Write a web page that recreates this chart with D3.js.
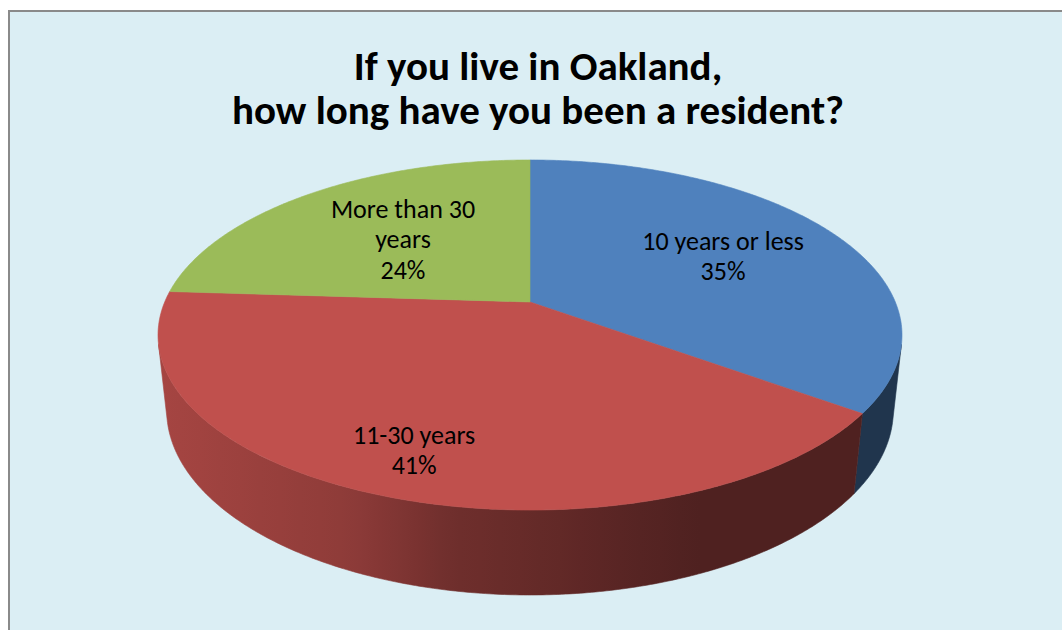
<!DOCTYPE html>
<html>
<head>
<meta charset="utf-8">
<script src="https://cdn.jsdelivr.net/npm/d3@7"></script>
<style>
  html, body { margin: 0; padding: 0; background: #ffffff; }
  svg { display: block; }
</style>
</head>
<body>
<svg id="chart" width="1062" height="630"></svg>
<script>
// ---- data ----
const titleLines = ["If you live in Oakland,", "how long have you been a resident?"];
const categories = ["10 years or less", "11-30 years", "More than 30 years"];
const labelLines = [["10 years or less"], ["11-30 years"], ["More than 30", "years"]];
const values = [35, 41, 24];
const colors = ["#4F81BD", "#C0504D", "#9BBB59"];

// ---- layout constants ----
const W = 1062, H = 630;
const cx = 530, cy = 302;           // projected pie centre
const f = 1717.7, D = 4.702;        // perspective camera
const sinA = 0.4621, cosA = 0.8868; // tilt
const depth = 0.2335;               // thickness (radius units)
const labelRadius = [0.625, 0.803, 0.546];
const fontStack = "Carlito, Calibri, Lato, 'Open Sans', sans-serif";

const svg = d3.select("#chart");

// background + frame
svg.append("rect").attr("x", 0).attr("y", 0).attr("width", W).attr("height", H).attr("fill", "#ffffff");
svg.append("rect").attr("x", 9).attr("y", 11).attr("width", W + 20).attr("height", H + 20)
  .attr("fill", "#DBEEF4").attr("stroke", "#8A8A8A").attr("stroke-width", 2);

// projection of a world point (X,Y,Z), Y up, Z toward viewer, radius 1
function project(X, Y, Z) {
  const d = D - Z * cosA - Y * sinA;
  const sy = Y * cosA - Z * sinA;
  return [cx + f * X / d, cy - f * sy / d];
}
function rimPoint(theta, r, Y) {
  return project(r * Math.sin(theta), Y, -r * Math.cos(theta));
}

const pie = d3.pie().sort(null).value(d => d)(values);

// gradient for side walls (shading across screen x)
const shade = d3.scaleLinear().domain([165, 350, 450, 530, 640, 700]).range([0.86, 0.74, 0.58, 0.53, 0.45, 0.41]).clamp(true);
const defs = svg.append("defs");
colors.forEach((c, i) => {
  const g = defs.append("linearGradient").attr("id", "side" + i)
    .attr("gradientUnits", "userSpaceOnUse").attr("x1", 160).attr("x2", 900).attr("y1", 0).attr("y2", 0);
  const base = d3.rgb(c);
  d3.range(160, 901, 20).forEach(x => {
    const s = shade(x);
    g.append("stop").attr("offset", (x - 160) / 740)
      .attr("stop-color", d3.rgb(base.r * s, base.g * s, base.b * s).formatHex());
  });
});

// visible part of the side: Z > 1/(D cosA)
const zt = 1 / (D * cosA);
const visA = Math.acos(-zt), visB = 2 * Math.PI - Math.acos(-zt);
const step = Math.PI / 360;

const line = d3.line();

pie.forEach((p, i) => {
  const a = Math.max(p.startAngle, visA), b = Math.min(p.endAngle, visB);
  if (b <= a) return;
  const pts = [];
  const n = Math.max(2, Math.ceil((b - a) / step));
  for (let j = 0; j <= n; j++) pts.push(rimPoint(a + (b - a) * j / n, 1, 0));
  for (let j = n; j >= 0; j--) pts.push(rimPoint(a + (b - a) * j / n, 1, -depth));
  svg.append("path").attr("d", line(pts) + "Z").attr("fill", `url(#side${i})`)
    .attr("stroke", `url(#side${i})`).attr("stroke-width", 0.6);
});

// top faces
pie.forEach((p, i) => {
  const pts = [project(0, 0, 0)];
  const n = Math.max(2, Math.ceil((p.endAngle - p.startAngle) / step));
  for (let j = 0; j <= n; j++) pts.push(rimPoint(p.startAngle + (p.endAngle - p.startAngle) * j / n, 1, 0));
  svg.append("path").attr("d", line(pts) + "Z").attr("fill", colors[i])
    .attr("stroke", colors[i]).attr("stroke-width", 0.6).attr("stroke-linejoin", "round");
});

// data labels
pie.forEach((p, i) => {
  const mid = (p.startAngle + p.endAngle) / 2;
  const [lx, ly] = rimPoint(mid, labelRadius[i], 0);
  const lines = labelLines[i].concat([Math.round(values[i]) + "%"]);
  const lh = 30.5;
  const t = svg.append("text").attr("text-anchor", "middle")
    .attr("font-family", fontStack).attr("font-size", 26).attr("fill", "#000");
  lines.forEach((s, j) => {
    t.append("tspan").attr("x", lx).attr("y", ly + (j - (lines.length - 1) / 2) * lh + 8.5).text(s);
  });
});

// title
titleLines.forEach((s, j) => {
  svg.append("text").attr("text-anchor", "middle")
    .attr("font-family", fontStack).attr("font-weight", "bold").attr("font-size", 41).attr("fill", "#000")
    .attr("x", 538).attr("y", 80 + j * 44).text(s);
});
</script>
</body>
</html>
